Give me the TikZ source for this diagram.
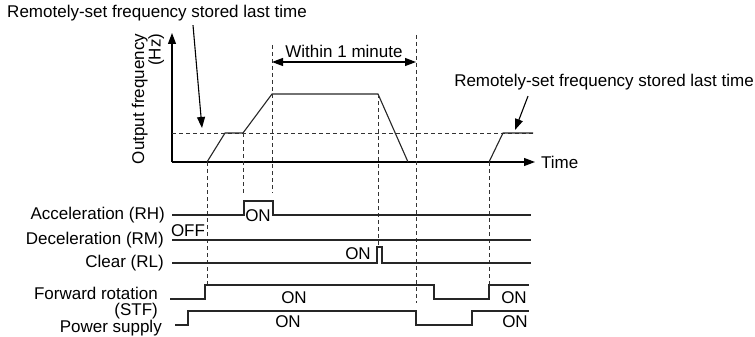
\documentclass[tikz,border=0pt]{standalone}
\usepackage{fontspec}
\setmainfont{Liberation Sans}
\usetikzlibrary{arrows.meta, positioning, calc}

\begin{document}
\begin{tikzpicture}[
  x=1pt, y=-1pt,
  font=\fontsize{17}{16.5}\selectfont,
  sig/.style={line width=1.1pt, draw=black!85},
  guide/.style={dashed, dash pattern=on 4pt off 3pt, line width=0.8pt, draw=black!80},
  arr/.style={-{Triangle[length=11pt, width=8pt]}, line width=1.1pt},
  darr/.style={{Triangle[length=11pt, width=8pt]}-{Triangle[length=11pt, width=8pt]}, line width=1.1pt},
  lbl/.style={anchor=east, inner sep=0pt},
  txt/.style={inner sep=0pt}
]
\useasboundingbox (0,0) rectangle (755,337);

%% Axes
\coordinate (O)    at (172,162);
\coordinate (ytop) at (172,33);
\node[txt, anchor=west] (time) at (541,162) {Time};
\draw[arr] (O) -- (ytop);
\draw[arr] (O) -- ([xshift=-6pt]time.west);
\node[txt, rotate=90, align=right] (ylab) at (148,99) {Output frequency\\(Hz)};

%% Output frequency
\draw[guide] (172,133) -- (533,133);
\draw[sig] (207,162) -- (225,133) -- (243,133) -- (272,94) -- (378,94) -- (408,162);
\draw[sig] (489,162) -- (503,133) -- (533,133);

%% Stored frequency labels
\node[txt] (memA) at (157,13) {Remotely-set frequency stored last time};
\coordinate (memAtip) at (202,128);
\draw[arr] ([xshift=36pt,yshift=-4pt]memA.south) -- (memAtip);
\node[txt] (memB) at (604,82) {Remotely-set frequency stored last time};
\coordinate (memBtip) at (515,130);
\draw[arr] ([xshift=-76pt,yshift=-6pt]memB.south) -- (memBtip);

%% Time guides
\draw[guide] (207,162) -- (207,285);
\draw[guide] (243,133) -- (243,193);
\draw[guide] (272,45)  -- (272,193);
\draw[guide] (378,94)  -- (378,247);
\draw[guide] (416,35)  -- (416,303);
\draw[guide] (489,162) -- (489,285);

%% Within 1 minute
\coordinate (wA) at (272,62);
\coordinate (wB) at (416,62);
\draw[darr] (wA) -- (wB);
\node[txt] (within) at (344,51) {Within 1 minute};

%% Signals
\node[lbl] (rh)  at (165,215) {Acceleration (RH)};
\node[lbl] (rm)  at (164,240) {Deceleration (RM)};
\node[lbl] (rl)  at (164,263) {Clear (RL)};
\node[lbl, align=right] (stf) at (158,303) {Forward rotation\\(STF)};
\node[lbl] (ps)  at (162,328) {Power supply};

\draw[sig] (172,215) -- (244,215) -- (244,201) -- (273,201) -- (273,215) -- (531,215);
\node[txt] (rhon) at (258,216) {ON};
\draw[sig] (172,240) -- (531,240);
\node[txt] (rmoff) at (188,231) {OFF};
\draw[sig] (172,263) -- (377,263) -- (377,247) -- (382,247) -- (382,263) -- (531,263);
\node[txt] (rlon) at (358,254) {ON};
\draw[sig] (170,299) -- (205,299) -- (205,285) -- (434,285) -- (434,299) -- (489,299) -- (489,285) -- (529,285);
\node[txt] (stfonA) at (294,298) {ON};
\node[txt] (stfonB) at (514,298) {ON};
\draw[sig] (175,325) -- (188,325) -- (188,311) -- (416,311) -- (416,325) -- (472,325) -- (472,311) -- (529,311);
\node[txt] (psonA) at (288,322) {ON};
\node[txt] (psonB) at (515,322) {ON};
\end{tikzpicture}
\end{document}
